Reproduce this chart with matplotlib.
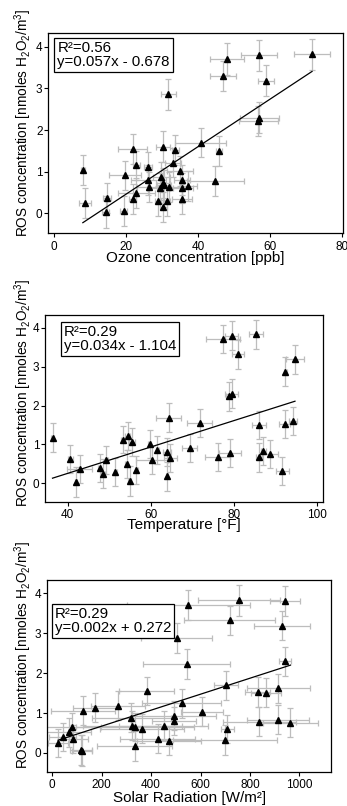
"""Three scatter panels: ROS concentration against ozone, temperature and solar radiation."""
import matplotlib
matplotlib.use("Agg")
import matplotlib.pyplot as plt

# ---- data ----
ozone = [8.0, 8.6, 14.3, 14.8, 19.3, 19.8, 21.9, 21.9, 22.9, 22.9, 26.1, 26.2, 26.3, 28.8,
         29.4, 29.8, 30.2, 30.3, 30.4, 30.6, 31.3, 31.9, 31.8, 33.1, 33.7, 35.0, 35.5, 35.6,
         35.6, 37.3, 40.7, 44.8, 45.9, 46.9, 48.0, 56.8, 57.0, 57.0, 58.9, 71.7]
ozone_err = [0.5, 1.6, 1.0, 1.1, 0.9, 4.4, 4.0, 1.0, 1.0, 5.2, 1.0, 4.9, 3.2, 0.8,
             3.7, 2.3, 2.0, 2.0, 1.0, 2.0, 1.0, 3.2, 2.1, 2.3, 1.0, 3.7, 3.2, 2.3,
             2.7, 2.3, 7.2, 7.9, 0.8, 3.7, 4.8, 5.4, 5.4, 5.0, 2.1, 4.9]
ros_ozone = [1.04, 0.24, 0.04, 0.38, 0.06, 0.92, 1.54, 0.34, 1.16, 0.50, 1.12, 0.80, 0.64, 0.30,
             0.60, 0.88, 1.60, 0.74, 0.16, 0.68, 0.30, 0.64, 2.86, 1.22, 1.52, 1.02, 0.60, 0.80,
             0.34, 0.66, 1.70, 0.78, 1.50, 3.30, 3.70, 2.22, 2.30, 3.80, 3.19, 3.82]
ros_ozone_err = [0.36, 0.36, 0.38, 0.36, 0.37, 0.35, 0.36, 0.36, 0.35, 0.36, 0.35, 0.36, 0.36, 0.35,
                 0.36, 0.35, 0.37, 0.36, 0.36, 0.36, 0.35, 0.36, 0.37, 0.35, 0.36, 0.36, 0.36, 0.36,
                 0.36, 0.36, 0.34, 0.37, 0.37, 0.37, 0.38, 0.37, 0.37, 0.37, 0.38, 0.37]

temp = [36.4, 40.6, 42.0, 42.9, 47.7, 48.6, 49.3, 51.5, 53.3, 54.2, 54.5, 54.9, 55.5, 56.5,
        59.7, 60.3, 61.6, 63.9, 63.9, 64.3, 64.7, 69.3, 71.7, 76.1, 77.3, 78.8, 79.0, 79.4,
        79.4, 80.9, 85.3, 85.9, 86.0, 87.0, 88.6, 91.6, 92.1, 92.3, 94.2, 94.6]
temp_err = [0.3, 0.6, 0.3, 3.0, 0.3, 0.5, 0.4, 0.3, 0.5, 0.3, 0.6, 0.4, 0.8, 0.4,
            0.3, 3.8, 0.4, 1.0, 0.3, 3.0, 1.5, 1.9, 3.1, 3.0, 4.0, 0.8, 2.6, 1.5,
            1.5, 1.5, 1.7, 1.7, 0.7, 0.6, 2.0, 1.6, 1.3, 0.4, 1.0, 2.2]
ros_temp = [1.17, 0.63, 0.03, 0.36, 0.40, 0.25, 0.60, 0.30, 1.12, 0.51, 1.23, 0.06, 1.06, 0.34,
            1.02, 0.61, 0.87, 0.80, 0.18, 1.69, 0.65, 0.92, 1.55, 0.67, 3.71, 2.24, 0.78, 2.31,
            3.80, 3.32, 3.83, 1.51, 0.67, 0.83, 0.75, 0.32, 1.52, 2.87, 1.61, 3.19]
ros_temp_err = [0.37, 0.36, 0.38, 0.36, 0.36, 0.37, 0.36, 0.36, 0.35, 0.36, 0.36, 0.38, 0.36, 0.36,
                0.36, 0.36, 0.36, 0.36, 0.37, 0.37, 0.36, 0.36, 0.36, 0.36, 0.37, 0.37, 0.36, 0.37,
                0.38, 0.37, 0.38, 0.36, 0.37, 0.36, 0.36, 0.37, 0.36, 0.37, 0.36, 0.37]

solar = [24, 42, 66, 78, 85, 116, 121, 124, 175, 265, 320, 324, 335, 333, 363, 382, 426, 452,
         472, 493, 493, 503, 524, 544, 551, 607, 700, 703, 708, 718, 754, 831, 837, 866, 912,
         915, 930, 942, 942, 964]
solar_err = [40, 55, 90, 120, 60, 45, 40, 130, 90, 110, 160, 200, 240, 150, 170, 110, 150, 180,
             130, 170, 90, 145, 160, 175, 250, 85, 210, 47, 27, 184, 166, 50, 148, 60, 125,
             128, 115, 23, 62, 112]
ros_solar = [0.25, 0.40, 0.52, 0.64, 0.35, 0.07, 0.06, 1.06, 1.13, 1.18, 0.88, 0.68, 0.65, 0.18,
             0.61, 1.55, 0.36, 0.68, 0.30, 0.93, 0.80, 2.88, 1.24, 2.23, 3.71, 1.03, 0.32, 1.69,
             0.60, 3.32, 3.82, 1.53, 0.78, 1.51, 0.83, 1.62, 3.19, 2.30, 3.80, 0.76]
ros_solar_err = [0.36, 0.36, 0.36, 0.36, 0.36, 0.38, 0.38, 0.36, 0.36, 0.36, 0.36, 0.36, 0.36, 0.38,
                 0.36, 0.36, 0.36, 0.36, 0.36, 0.36, 0.36, 0.37, 0.36, 0.37, 0.37, 0.36, 0.37, 0.36,
                 0.36, 0.37, 0.38, 0.37, 0.36, 0.36, 0.36, 0.36, 0.37, 0.36, 0.37, 0.36]

# linear fits as printed in the boxes
fit_slope = [0.057, 0.034, 0.002]
fit_icept = [-0.678, -1.104, 0.272]
fit_r2 = [0.56, 0.29, 0.29]

x_labels = ["Ozone concentration [ppb]", "Temperature [°F]", "Solar Radiation [W/m²]"]
x_ticks = [[0, 20, 40, 60, 80], [40, 60, 80, 100], [0, 200, 400, 600, 800, 1000]]
y_ticks = [0, 1, 2, 3, 4]

# ---- style ----
plt.rcParams["font.family"] = ["Liberation Sans", "DejaVu Sans"]
plt.rcParams["mathtext.fontset"] = "custom"
plt.rcParams["mathtext.rm"] = "Liberation Sans"
plt.rcParams["mathtext.it"] = "Liberation Sans:italic"
plt.rcParams["mathtext.bf"] = "Liberation Sans:bold"

fig = plt.figure(figsize=(3.47, 8.06), dpi=100)

panels = [
    dict(rect=[0.1392, 0.7109, 0.8493, 0.2481], x=ozone, xerr=ozone_err, y=ros_ozone,
         yerr=ros_ozone_err, xlim=(-1.6, 80.3), box=(0.031, 0.962), ylab_y=0.848, xlab_y=0.680),
    dict(rect=[0.1297, 0.3776, 0.8020, 0.2316], x=temp, xerr=temp_err, y=ros_temp,
         yerr=ros_temp_err, xlim=(34.6, 101.4), box=(0.068, 0.945), ylab_y=0.513, xlab_y=0.349),
    dict(rect=[0.1363, 0.0425, 0.8176, 0.2378], x=solar, xerr=solar_err, y=ros_solar,
         yerr=ros_solar_err, xlim=(-20, 1128), box=(0.027, 0.860), ylab_y=0.187, xlab_y=0.010),
]

for i, p in enumerate(panels):
    ax = fig.add_axes(p["rect"])
    ax.errorbar(p["x"], p["y"], xerr=p["xerr"], yerr=p["yerr"], fmt="none",
                ecolor="#bdbdbd", elinewidth=0.9, capsize=1.9, capthick=0.9, zorder=1)
    ax.plot(p["x"], p["y"], "^", color="black", ms=4.2, zorder=4)
    xs = [min(p["x"]), max(p["x"])]
    ax.plot(xs, [fit_slope[i] * v + fit_icept[i] for v in xs], color="black", lw=0.9, zorder=3)

    sign = "+" if fit_icept[i] >= 0 else "-"
    txt = f"R²={fit_r2[i]:.2f}\ny={fit_slope[i]:.3f}x {sign} {abs(fit_icept[i]):.3f}"
    ax.text(p["box"][0], p["box"][1], txt, transform=ax.transAxes, ha="left", va="top",
            fontsize=10.8, linespacing=1.0, zorder=2,
            bbox=dict(boxstyle="square,pad=0.2", fc="white", ec="black", lw=0.9))

    ax.set_xlim(*p["xlim"])
    ax.set_ylim(-0.47, 4.33)
    ax.set_xticks(x_ticks[i])
    ax.set_yticks(y_ticks)
    ax.tick_params(axis="both", direction="out", length=3, width=0.8, labelsize=8.5)
    ax.tick_params(axis="x", pad=2.5)
    ax.tick_params(axis="y", pad=1.2)
    for s in ax.spines.values():
        s.set_linewidth(0.9)

    cx = p["rect"][0] + p["rect"][2] / 2
    fig.text(cx, p["xlab_y"], x_labels[i], ha="center", va="center", fontsize=11)
    fig.text(0.067, p["ylab_y"], r"ROS concentration [nmoles H$_2$O$_2$/m$^3$]",
             rotation=90, ha="center", va="center", fontsize=9.8)

fig.savefig("out.png", dpi=100)
